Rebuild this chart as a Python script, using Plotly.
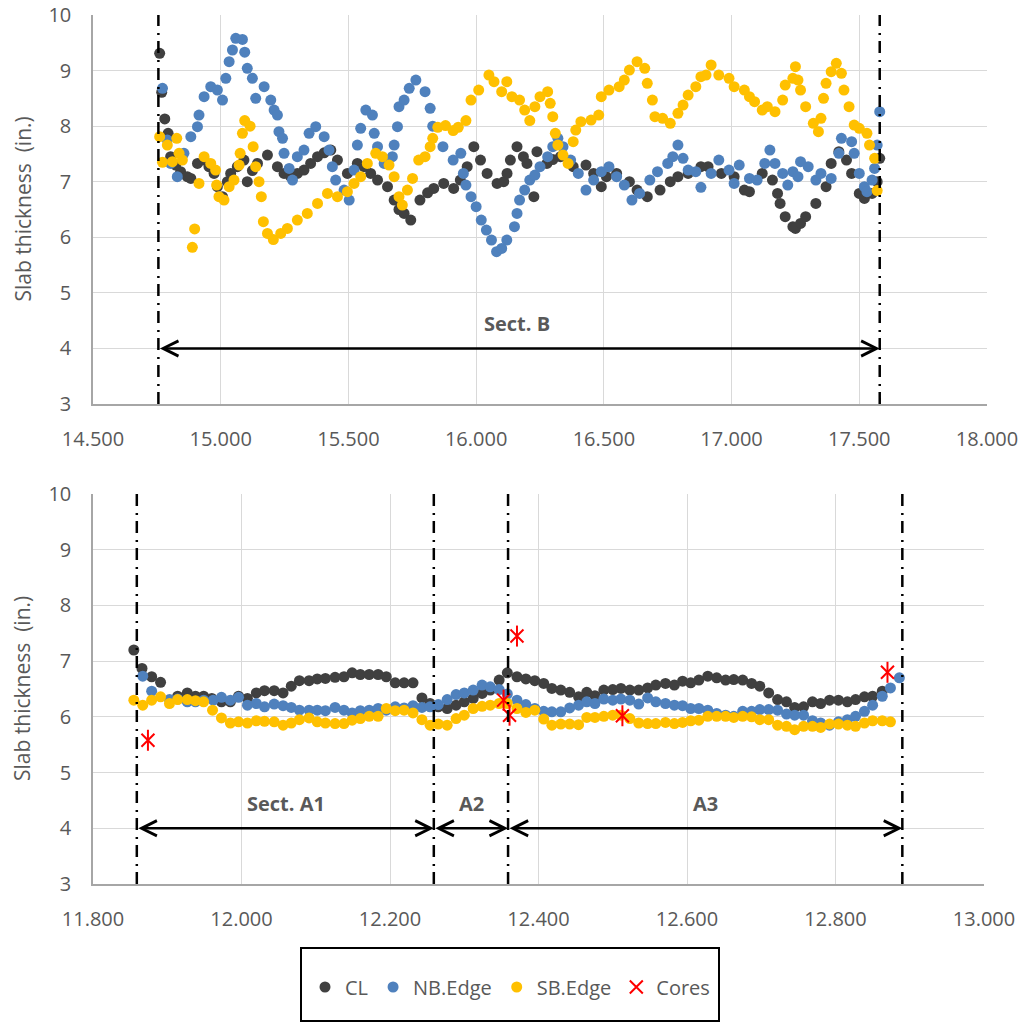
import plotly.graph_objects as go

# ---------------- data: top chart (Sect. B) ----------------
cl_top_x = [14.761, 14.769, 14.781, 14.794, 14.804, 14.824, 14.843, 14.869, 14.883, 14.909, 14.935, 14.954,
            14.974, 14.987, 15.007, 15.026, 15.039, 15.065, 15.091, 15.104, 15.124, 15.144, 15.183, 15.222,
            15.248, 15.274, 15.300, 15.326, 15.352, 15.379, 15.405, 15.431, 15.457, 15.496, 15.535, 15.561,
            15.587, 15.614, 15.653, 15.679, 15.698, 15.718, 15.744, 15.780, 15.810, 15.834, 15.873, 15.912,
            15.938, 15.965, 15.991, 16.017, 16.043, 16.082, 16.108, 16.121, 16.134, 16.160, 16.185, 16.199,
            16.226, 16.238, 16.277, 16.300, 16.330, 16.380, 16.430, 16.460, 16.490, 16.510, 16.550, 16.600,
            16.630, 16.670, 16.720, 16.760, 16.790, 16.830, 16.880, 16.908, 16.960, 17.010, 17.050, 17.070,
            17.120, 17.160, 17.180, 17.190, 17.210, 17.240, 17.250, 17.270, 17.290, 17.330, 17.370, 17.390,
            17.420, 17.450, 17.470, 17.500, 17.520, 17.550, 17.570, 17.580]
cl_top_y = [9.31, 8.61, 8.13, 7.87, 7.45, 7.30, 7.18, 7.09, 7.06, 7.33, 7.39, 7.27,
            7.15, 6.91, 6.73, 7.00, 7.15, 7.27, 7.39, 7.00, 7.20, 7.33, 7.48, 7.27,
            7.15, 7.09, 7.15, 7.21, 7.33, 7.45, 7.52, 7.57, 7.39, 7.15, 7.33, 7.27,
            7.15, 7.03, 6.91, 6.67, 6.50, 6.43, 6.31, 6.67, 6.80, 6.88, 6.97, 6.88,
            7.03, 7.27, 7.63, 7.39, 7.15, 6.97, 7.00, 7.15, 7.39, 7.63, 7.45, 7.33,
            6.73, 7.54, 7.33, 7.40, 7.45, 7.27, 7.30, 7.15, 6.91, 7.09, 7.15, 7.00,
            6.85, 6.73, 6.85, 7.00, 7.09, 7.15, 7.27, 7.27, 7.15, 7.09, 6.85, 6.82,
            7.15, 7.03, 6.79, 6.61, 6.37, 6.19, 6.16, 6.25, 6.37, 6.61, 6.91, 7.33,
            7.54, 7.39, 7.15, 6.79, 6.70, 6.79, 7.00, 7.42]

nb_top_x = [14.772, 14.791, 14.804, 14.830, 14.856, 14.883, 14.909, 14.915, 14.935, 14.961, 14.987, 15.007,
            15.020, 15.033, 15.046, 15.059, 15.085, 15.094, 15.104, 15.124, 15.137, 15.170, 15.196, 15.209,
            15.222, 15.228, 15.242, 15.248, 15.268, 15.281, 15.300, 15.326, 15.346, 15.372, 15.405, 15.424,
            15.437, 15.450, 15.483, 15.503, 15.522, 15.535, 15.548, 15.568, 15.594, 15.601, 15.614, 15.640,
            15.672, 15.679, 15.692, 15.698, 15.718, 15.738, 15.764, 15.800, 15.820, 15.830, 15.870, 15.910,
            15.940, 15.950, 15.960, 15.980, 16.000, 16.020, 16.040, 16.060, 16.080, 16.100, 16.120, 16.150,
            16.160, 16.170, 16.190, 16.210, 16.230, 16.250, 16.280, 16.300, 16.320, 16.340, 16.370, 16.400,
            16.430, 16.460, 16.490, 16.520, 16.550, 16.580, 16.610, 16.640, 16.680, 16.710, 16.750, 16.770,
            16.790, 16.810, 16.830, 16.860, 16.880, 16.920, 16.950, 16.990, 17.010, 17.030, 17.070, 17.100,
            17.130, 17.150, 17.170, 17.200, 17.220, 17.240, 17.260, 17.270, 17.300, 17.330, 17.350, 17.390,
            17.420, 17.430, 17.470, 17.480, 17.500, 17.520, 17.530, 17.550, 17.560, 17.570, 17.580]
nb_top_y = [8.68, 7.75, 7.33, 7.09, 7.51, 7.81, 7.99, 8.20, 8.53, 8.71, 8.65, 8.47,
            8.86, 9.16, 9.37, 9.58, 9.56, 9.33, 9.04, 8.86, 8.50, 8.71, 8.47, 8.29,
            8.20, 7.90, 7.78, 7.51, 7.24, 7.03, 7.45, 7.57, 7.87, 7.99, 7.81, 7.57,
            7.27, 7.03, 6.85, 6.67, 7.21, 7.66, 7.96, 8.29, 8.20, 7.87, 7.63, 7.33,
            7.45, 7.66, 7.99, 8.35, 8.47, 8.68, 8.83, 8.62, 8.32, 8.00, 7.63, 7.39,
            7.51, 7.15, 6.94, 6.73, 6.55, 6.31, 6.13, 5.95, 5.74, 5.80, 5.95, 6.19,
            6.43, 6.67, 6.85, 7.03, 7.12, 7.27, 7.45, 7.63, 7.78, 7.63, 7.39, 7.15,
            6.85, 7.03, 7.18, 7.27, 7.09, 6.94, 6.67, 6.79, 7.03, 7.18, 7.33, 7.45,
            7.66, 7.42, 7.21, 7.18, 6.90, 7.15, 7.39, 7.21, 6.97, 7.30, 7.06, 7.03,
            7.33, 7.57, 7.33, 7.15, 6.94, 7.18, 7.09, 7.36, 7.27, 7.03, 7.15, 7.06,
            7.51, 7.78, 7.72, 7.51, 7.15, 6.91, 6.82, 7.03, 7.24, 7.66, 8.26]

sb_top_x = [14.761, 14.772, 14.791, 14.811, 14.828, 14.837, 14.850, 14.889, 14.898, 14.915, 14.935, 14.961,
            14.980, 14.984, 14.993, 15.013, 15.033, 15.052, 15.072, 15.076, 15.085, 15.094, 15.115, 15.127,
            15.137, 15.150, 15.159, 15.167, 15.183, 15.206, 15.235, 15.261, 15.300, 15.339, 15.379, 15.418,
            15.457, 15.496, 15.522, 15.548, 15.574, 15.607, 15.633, 15.659, 15.679, 15.698, 15.711, 15.731,
            15.751, 15.775, 15.800, 15.820, 15.830, 15.850, 15.880, 15.910, 15.930, 15.960, 15.980, 16.010,
            16.050, 16.070, 16.100, 16.120, 16.140, 16.170, 16.190, 16.210, 16.230, 16.250, 16.280, 16.290,
            16.300, 16.310, 16.320, 16.340, 16.360, 16.380, 16.390, 16.410, 16.450, 16.480, 16.490, 16.520,
            16.560, 16.580, 16.600, 16.630, 16.660, 16.670, 16.690, 16.700, 16.730, 16.760, 16.790, 16.810,
            16.830, 16.860, 16.880, 16.900, 16.920, 16.950, 16.990, 17.010, 17.050, 17.070, 17.090, 17.120,
            17.140, 17.170, 17.200, 17.210, 17.240, 17.250, 17.260, 17.270, 17.290, 17.320, 17.340, 17.350,
            17.360, 17.370, 17.390, 17.410, 17.430, 17.440, 17.460, 17.480, 17.500, 17.530, 17.540, 17.560,
            17.570]
sb_top_y = [7.81, 7.35, 7.66, 7.36, 7.78, 7.51, 7.39, 5.82, 6.15, 6.97, 7.45, 7.33,
            7.21, 6.94, 6.73, 6.67, 6.91, 7.03, 7.30, 7.51, 7.87, 8.10, 8.00, 7.63,
            7.27, 7.00, 6.73, 6.28, 6.07, 5.96, 6.07, 6.16, 6.31, 6.43, 6.61, 6.79,
            6.73, 6.82, 6.97, 7.09, 7.33, 7.51, 7.45, 7.30, 7.09, 6.73, 6.58, 6.85,
            7.06, 7.39, 7.45, 7.63, 7.78, 7.98, 8.01, 7.92, 7.98, 8.10, 8.47, 8.65,
            8.92, 8.80, 8.62, 8.80, 8.53, 8.47, 8.29, 8.10, 8.35, 8.53, 8.62, 8.41,
            8.17, 7.87, 7.66, 7.48, 7.33, 7.72, 7.93, 8.08, 8.11, 8.20, 8.53, 8.65,
            8.71, 8.83, 9.01, 9.16, 9.04, 8.77, 8.47, 8.17, 8.14, 8.05, 8.23, 8.38,
            8.56, 8.71, 8.89, 8.92, 9.10, 8.92, 8.86, 8.71, 8.65, 8.53, 8.44, 8.29,
            8.35, 8.26, 8.47, 8.74, 8.86, 9.07, 8.83, 8.65, 8.35, 8.05, 7.90, 8.14,
            8.50, 8.77, 8.98, 9.13, 8.95, 8.65, 8.35, 8.02, 7.96, 7.87, 7.66, 7.42,
            6.84]

# ---------------- data: bottom chart (Sect. A1-A3) ----------------
cl_bot_x = [11.855, 11.866, 11.879, 11.891, 11.914, 11.927, 11.938, 11.949, 11.960, 11.973, 11.985, 11.996,
            12.008, 12.020, 12.031, 12.044, 12.056, 12.067, 12.078, 12.091, 12.102, 12.113, 12.126, 12.138,
            12.149, 12.160, 12.172, 12.184, 12.195, 12.207, 12.219, 12.231, 12.243, 12.254, 12.265, 12.277,
            12.289, 12.300, 12.312, 12.324, 12.335, 12.347, 12.358, 12.371, 12.383, 12.395, 12.407, 12.418,
            12.430, 12.442, 12.454, 12.465, 12.476, 12.488, 12.500, 12.511, 12.523, 12.535, 12.547, 12.558,
            12.571, 12.583, 12.594, 12.605, 12.616, 12.628, 12.640, 12.652, 12.663, 12.675, 12.687, 12.698,
            12.710, 12.722, 12.734, 12.745, 12.757, 12.769, 12.780, 12.792, 12.804, 12.816, 12.827, 12.839,
            12.850, 12.863]
cl_bot_y = [7.20, 6.87, 6.72, 6.62, 6.37, 6.43, 6.37, 6.37, 6.33, 6.27, 6.27, 6.37,
            6.33, 6.43, 6.47, 6.47, 6.43, 6.55, 6.65, 6.65, 6.68, 6.69, 6.71, 6.72,
            6.79, 6.76, 6.76, 6.76, 6.72, 6.61, 6.61, 6.61, 6.34, 6.24, 6.18, 6.15,
            6.21, 6.27, 6.33, 6.42, 6.48, 6.66, 6.79, 6.72, 6.68, 6.65, 6.60, 6.51,
            6.48, 6.44, 6.36, 6.44, 6.38, 6.48, 6.49, 6.51, 6.48, 6.48, 6.52, 6.57,
            6.60, 6.57, 6.64, 6.61, 6.66, 6.73, 6.70, 6.66, 6.67, 6.66, 6.60, 6.55,
            6.43, 6.31, 6.27, 6.17, 6.18, 6.27, 6.24, 6.30, 6.30, 6.27, 6.31, 6.36,
            6.37, 6.46]

nb_bot_x = [11.867, 11.879, 11.903, 11.914, 11.927, 11.938, 11.949, 11.962, 11.973, 11.985, 11.996, 12.008,
            12.020, 12.031, 12.044, 12.056, 12.067, 12.078, 12.091, 12.102, 12.113, 12.126, 12.138, 12.149,
            12.160, 12.172, 12.184, 12.195, 12.207, 12.219, 12.231, 12.243, 12.254, 12.265, 12.277, 12.289,
            12.300, 12.312, 12.324, 12.335, 12.347, 12.358, 12.371, 12.383, 12.395, 12.407, 12.418, 12.430,
            12.442, 12.454, 12.465, 12.476, 12.488, 12.500, 12.511, 12.523, 12.535, 12.547, 12.558, 12.571,
            12.583, 12.594, 12.605, 12.616, 12.628, 12.640, 12.652, 12.663, 12.675, 12.687, 12.698, 12.710,
            12.722, 12.734, 12.745, 12.757, 12.769, 12.780, 12.792, 12.804, 12.816, 12.827, 12.839, 12.850,
            12.863, 12.874, 12.886]
nb_bot_y = [6.73, 6.46, 6.31, 6.32, 6.27, 6.27, 6.30, 6.30, 6.35, 6.30, 6.35, 6.21,
            6.24, 6.18, 6.23, 6.20, 6.17, 6.12, 6.12, 6.12, 6.11, 6.17, 6.12, 6.07,
            6.11, 6.12, 6.15, 6.12, 6.18, 6.16, 6.20, 6.17, 6.18, 6.22, 6.31, 6.40,
            6.43, 6.48, 6.57, 6.54, 6.49, 6.41, 6.30, 6.22, 6.15, 6.10, 6.09, 6.09,
            6.16, 6.21, 6.27, 6.24, 6.32, 6.30, 6.32, 6.30, 6.23, 6.34, 6.27, 6.24,
            6.21, 6.20, 6.15, 6.15, 6.12, 6.06, 6.03, 6.01, 6.10, 6.10, 6.13, 6.13,
            6.12, 6.05, 6.03, 6.03, 5.93, 5.89, 5.85, 5.91, 5.95, 6.01, 6.10, 6.21,
            6.37, 6.52, 6.70]

sb_bot_x = [11.855, 11.867, 11.879, 11.891, 11.903, 11.914, 11.927, 11.938, 11.949, 11.961, 11.973, 11.985,
            11.996, 12.008, 12.020, 12.031, 12.044, 12.056, 12.067, 12.078, 12.091, 12.102, 12.113, 12.126,
            12.138, 12.149, 12.160, 12.172, 12.184, 12.195, 12.207, 12.219, 12.231, 12.243, 12.254, 12.265,
            12.277, 12.289, 12.300, 12.312, 12.324, 12.335, 12.347, 12.358, 12.371, 12.383, 12.395, 12.407,
            12.418, 12.430, 12.442, 12.454, 12.465, 12.476, 12.488, 12.500, 12.511, 12.523, 12.535, 12.547,
            12.558, 12.571, 12.583, 12.594, 12.605, 12.616, 12.628, 12.640, 12.652, 12.663, 12.675, 12.687,
            12.698, 12.710, 12.722, 12.734, 12.745, 12.757, 12.769, 12.780, 12.792, 12.804, 12.816, 12.827,
            12.839, 12.850, 12.863, 12.874]
sb_bot_y = [6.30, 6.21, 6.30, 6.36, 6.24, 6.31, 6.31, 6.29, 6.27, 6.12, 5.98, 5.89,
            5.91, 5.89, 5.93, 5.92, 5.91, 5.85, 5.89, 5.95, 5.98, 5.91, 5.89, 5.88,
            5.88, 5.94, 5.97, 6.01, 6.01, 6.15, 6.11, 6.12, 6.07, 5.95, 5.85, 5.87,
            5.85, 5.97, 6.03, 6.15, 6.19, 6.21, 6.24, 6.24, 6.15, 6.08, 6.12, 5.96,
            5.85, 5.87, 5.87, 5.86, 5.99, 5.99, 6.01, 6.03, 6.03, 5.97, 5.89, 5.88,
            5.88, 5.90, 5.88, 5.90, 5.93, 5.94, 6.01, 6.01, 6.01, 5.99, 6.01, 6.00,
            5.95, 5.95, 5.85, 5.83, 5.77, 5.83, 5.83, 5.81, 5.87, 5.87, 5.85, 5.83,
            5.89, 5.93, 5.93, 5.91]

cores_x = [11.874, 12.353, 12.361, 12.371, 12.513, 12.870]
cores_y = [5.58, 6.30, 6.03, 7.45, 6.02, 6.80]

# section boundaries and labels
top_bounds = [14.756, 17.580]
bot_bounds = [11.859, 12.259, 12.359, 12.890]
top_labels = ["Sect. B"]
top_label_x = [16.16]
bot_labels = ["Sect. A1", "A2", "A3"]
bot_label_x = [12.06, 12.31, 12.625]
arrow_y = 4.0
label_y = 4.45
y_title = "Slab thickness \u00a0(in.)"

series_names = ["CL", "NB.Edge", "SB.Edge", "Cores"]
colors = ["#404040", "#4F81BD", "#FFC000", "#FF0000"]

FONT = "Open Sans, Liberation Sans, Arial, sans-serif"
TXT = "#595959"

# full-window figure; the page's default body margin is removed by a small post script
W, H = 1022, 1023


def px(v):
    return v / W


def py(v):
    return 1 - v / H


fig = go.Figure()

top = [(cl_top_x, cl_top_y), (nb_top_x, nb_top_y), (sb_top_x, sb_top_y)]
bot = [(cl_bot_x, cl_bot_y), (nb_bot_x, nb_bot_y), (sb_bot_x, sb_bot_y)]
for i, (xs, ys) in enumerate(top):
    fig.add_trace(go.Scatter(x=xs, y=ys, mode="markers", name=series_names[i],
                             marker=dict(size=11, color=colors[i]), xaxis="x", yaxis="y",
                             legendgroup=series_names[i], showlegend=True))
for i, (xs, ys) in enumerate(bot):
    fig.add_trace(go.Scatter(x=xs, y=ys, mode="markers", name=series_names[i],
                             marker=dict(size=11, color=colors[i]), xaxis="x2", yaxis="y2",
                             legendgroup=series_names[i], showlegend=False))
fig.add_trace(go.Scatter(x=cores_x, y=cores_y, mode="markers", name="Cores",
                         marker=dict(symbol="x-thin-open", size=13, color=colors[3],
                                     line=dict(color=colors[3], width=2)),
                         xaxis="x2", yaxis="y2", legendgroup="Cores", showlegend=True))
fig.add_trace(go.Scatter(x=cores_x, y=cores_y, mode="markers", name="Cores",
                         marker=dict(symbol="line-ns-open", size=15, color=colors[3],
                                     line=dict(color=colors[3], width=2)),
                         xaxis="x2", yaxis="y2", legendgroup="Cores", showlegend=False))

shapes = []
annotations = []
dash = "12px,6px,2px,7px"
for xv in top_bounds:
    shapes.append(dict(type="line", xref="x", yref="y", x0=xv, x1=xv, y0=3, y1=10,
                       line=dict(color="black", width=2.5, dash=dash)))
for xv in bot_bounds:
    shapes.append(dict(type="line", xref="x2", yref="y2", x0=xv, x1=xv, y0=3, y1=10,
                       line=dict(color="black", width=2.5, dash=dash)))


def add_arrow(xr, yr, a, b):
    annotations.append(dict(x=b, y=arrow_y, ax=a, ay=arrow_y, xref=xr, yref=yr, axref=xr, ayref=yr,
                            text="", showarrow=True, arrowhead=5, startarrowhead=5,
                            arrowside="end+start", arrowsize=1.2, startarrowsize=1.2,
                            arrowwidth=2.5, arrowcolor="black", standoff=0, startstandoff=0))


add_arrow("x", "y", top_bounds[0], top_bounds[1])
for k in range(len(bot_bounds) - 1):
    add_arrow("x2", "y2", bot_bounds[k], bot_bounds[k + 1])

for t, xv in zip(top_labels, top_label_x):
    annotations.append(dict(x=xv, y=label_y, xref="x", yref="y", text="<b>%s</b>" % t,
                            showarrow=False, font=dict(family=FONT, size=20, color=TXT)))
for t, xv in zip(bot_labels, bot_label_x):
    annotations.append(dict(x=xv, y=label_y, xref="x2", yref="y2", text="<b>%s</b>" % t,
                            showarrow=False, font=dict(family=FONT, size=20, color=TXT)))

# y-axis titles (rotated text left of each panel)
for y0, y1 in [(15, 404), (494, 884)]:
    annotations.append(dict(x=px(22), y=py((y0 + y1) / 2), xref="paper", yref="paper", text=y_title,
                            textangle=-90, showarrow=False, xanchor="center", yanchor="middle",
                            font=dict(family=FONT, size=21, color=TXT)))

# legend frame
shapes.append(dict(type="rect", xref="paper", yref="paper", x0=px(301), x1=px(719),
                   y0=py(1021), y1=py(948), line=dict(color="black", width=2)))

axis_common = dict(showgrid=True, gridcolor="#D9D9D9", gridwidth=1, showline=True, linecolor="#A6A6A6",
                   linewidth=1.5, zeroline=False, ticks="", tickfont=dict(family=FONT, size=20, color=TXT),
                   ticklabelstandoff=16, ticklabeloverflow="allow")

fig.update_layout(
    width=W, height=H, autosize=False,
    margin=dict(l=0, r=0, t=0, b=0),
    paper_bgcolor="white", plot_bgcolor="white",
    showlegend=True,
    legend=dict(orientation="h", x=px(510), xanchor="center", y=py(987), yanchor="middle",
                font=dict(family=FONT, size=20, color=TXT), bgcolor="rgba(0,0,0,0)",
                itemwidth=30, tracegroupgap=0),
    xaxis=dict(domain=[px(93), px(987)], range=[14.5, 18.0], dtick=0.5, tick0=14.5,
               tickformat=".3f", anchor="y", automargin=False, **axis_common),
    yaxis=dict(domain=[py(404), py(15)], range=[3, 10], dtick=1, anchor="x",
               automargin=False, **axis_common),
    xaxis2=dict(domain=[px(93), px(984)], range=[11.8, 13.0], dtick=0.2, tick0=11.8,
                tickformat=".3f", anchor="y2", automargin=False, **axis_common),
    yaxis2=dict(domain=[py(884), py(494)], range=[3, 10], dtick=1, anchor="x2",
                automargin=False, **axis_common),
    shapes=shapes, annotations=annotations,
)

fig.write_html("out.html", config={"displayModeBar": False},
               post_script="document.body.style.margin='0';document.body.style.overflow='hidden';")
